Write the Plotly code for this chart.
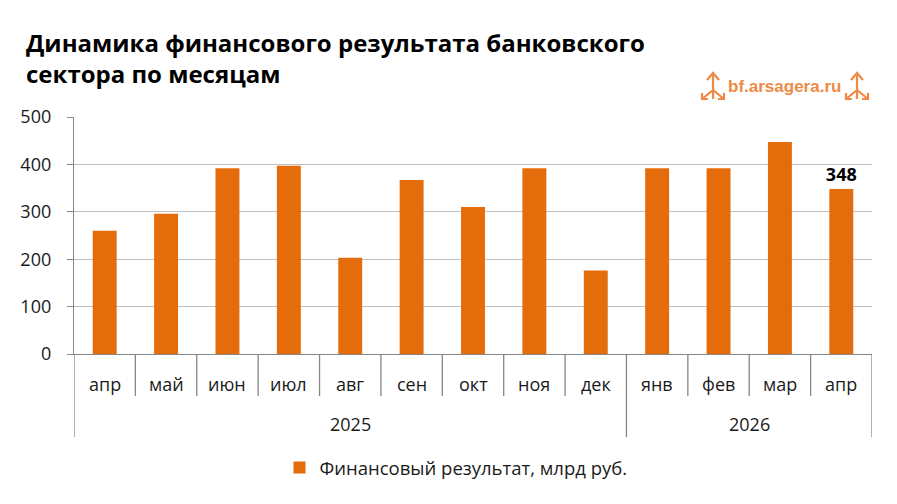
import plotly.graph_objects as go

# финансовый результат банковского сектора, млрд руб.
months = ["апр", "май", "июн", "июл", "авг", "сен", "окт", "ноя", "дек",
          "янв", "фев", "мар", "апр"]
years = ["2025"] * 9 + ["2026"] * 4
values = [260, 296, 392, 397, 203, 367, 310, 392, 176, 392, 392, 447, 348]
labels = [""] * 12 + ["348"]

ORANGE = "#E46C0A"
LOGO = "#EE8A44"
AXIS = "#868686"
FONT = "Open Sans"

n = len(months)
xs = list(range(n))

fig = go.Figure()
fig.add_trace(go.Bar(
    x=xs, y=values,
    name="Финансовый результат, млрд руб.",
    marker=dict(color=ORANGE, line_width=0),
    text=labels, textposition="outside", cliponaxis=False, constraintext="none",
    textfont=dict(family=FONT, size=18, color="black", weight="bold"),
))


def px(x, y):
    # screenshot pixel -> paper coords of the plot area (74..872, 354..117)
    return (x - 74) / 798, (354 - y) / 237


def logo_path(cx):
    pts = [
        ("M", cx, 99), ("L", cx, 73),
        ("M", cx - 6, 80), ("L", cx, 73), ("L", cx + 6, 80),
        ("M", cx, 90), ("L", cx - 11, 99),
        ("M", cx - 11, 93), ("L", cx - 11, 99), ("L", cx - 5, 99),
        ("M", cx, 90), ("L", cx + 11, 99),
        ("M", cx + 11, 93), ("L", cx + 11, 99), ("L", cx + 5, 99),
    ]
    out = ""
    for c, x, y in pts:
        a, b = px(x, y)
        out += f"{c} {a:.4f} {b:.4f} "
    return out


shapes = []
for cx in (713, 857):
    shapes.append(dict(type="path", xref="paper", yref="paper", path=logo_path(cx),
                       line=dict(color=LOGO, width=2.2)))

# separators under the category axis (month row short, year groups long)
y_month = px(0, 396)[1]
y_year = px(0, 437)[1]
for i in range(n + 1):
    group_edge = i == 0 or i == n or years[i] != years[i - 1]
    shapes.append(dict(type="line", xref="x", yref="paper", x0=i - 0.5, x1=i - 0.5,
                       y0=0, y1=y_year if group_edge else y_month,
                       line=dict(color=AXIS, width=1.3)))

annotations = [
    dict(text="<b>Динамика финансового результата банковского<br>сектора по месяцам</b>",
         xref="paper", yref="paper", x=px(24, 0)[0], y=px(0, 58)[1],
         xanchor="left", yanchor="middle", align="left", showarrow=False,
         font=dict(family=FONT, size=24, color="black")),
    dict(text="<b>bf.arsagera.ru</b>", xref="paper", yref="paper",
         x=px(784, 0)[0], y=px(0, 86)[1], xanchor="center", yanchor="middle",
         showarrow=False, font=dict(family="Liberation Sans", size=17, color=LOGO)),
]
for i, m in enumerate(months):
    annotations.append(dict(text=m, xref="x", yref="paper", x=i, y=px(0, 384)[1],
                            xanchor="center", yanchor="middle", showarrow=False,
                            font=dict(family=FONT, size=18, color="#1a1a1a")))
for yr in dict.fromkeys(years):
    idx = [i for i, v in enumerate(years) if v == yr]
    annotations.append(dict(text=yr, xref="x", yref="paper", x=sum(idx) / len(idx),
                            y=px(0, 424)[1], xanchor="center", yanchor="middle",
                            showarrow=False,
                            font=dict(family=FONT, size=18, color="#1a1a1a")))

# body margin of the page is 8px, so the figure is drawn 8px smaller
fig.update_layout(
    width=889, height=496,
    margin=dict(l=66, r=25, t=109, b=150),
    paper_bgcolor="white", plot_bgcolor="white",
    font=dict(family=FONT, size=18, color="#1a1a1a"),
    bargap=0.61,
    showlegend=True,
    legend=dict(orientation="h", x=px(456, 0)[0], xanchor="center", y=px(0, 468)[1],
                yanchor="middle", font=dict(size=18.5), itemwidth=30),
    shapes=shapes,
    annotations=annotations,
)
fig.update_yaxes(range=[0, 500], dtick=100, showgrid=True, gridcolor="#BFBFBF",
                 gridwidth=1.3, showline=True, linecolor=AXIS, linewidth=1.3,
                 ticks="outside", ticklen=6, tickcolor=AXIS, ticklabelstandoff=12,
                 tickfont=dict(size=18), zeroline=False)
fig.update_xaxes(range=[-0.5, n - 0.5], showline=True, linecolor=AXIS, linewidth=1.3,
                 showticklabels=False, ticks="", showgrid=False, zeroline=False)

fig.write_html("out.html")
